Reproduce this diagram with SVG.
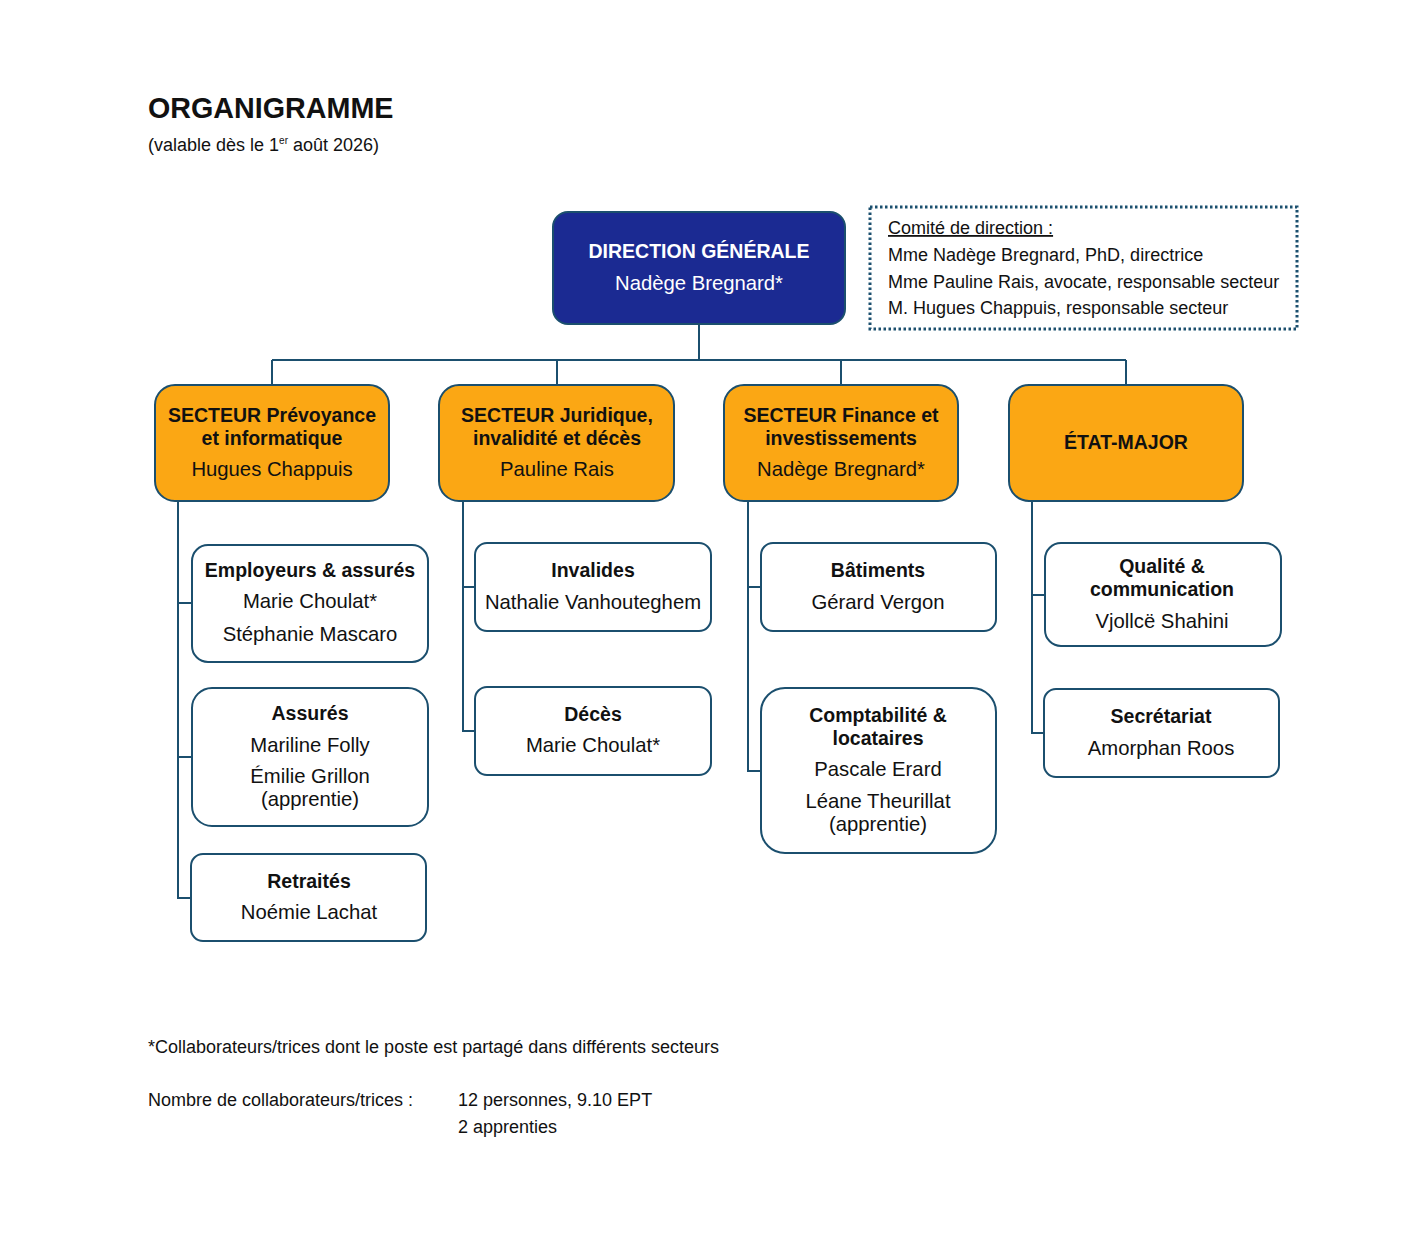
<svg xmlns="http://www.w3.org/2000/svg" width="1423" height="1240" viewBox="0 0 1423 1240">
<style>
text{font-family:"Liberation Sans",Arial,sans-serif;fill:#111;}
.t{font-size:28.7px;font-weight:bold;}
.s{font-size:18px;}
.b{font-size:19.5px;font-weight:bold;text-anchor:middle;}
.n{font-size:20.3px;text-anchor:middle;}
.w{fill:#fff;}
.dg{fill:#1b2a92;stroke:#1b4f6e;stroke-width:2;}
.sec{fill:#fba714;stroke:#1b4f6e;stroke-width:2;}
.sub{fill:#fff;stroke:#1b4f6e;stroke-width:2;}
.ln{fill:none;stroke:#1b4f6e;stroke-width:2;}
</style>
<rect width="1423" height="1240" fill="#fff"/>
<text class="t" x="148" y="118">ORGANIGRAMME</text>
<text class="s" x="148" y="151">(valable dès le 1<tspan font-size="10" dy="-7">er</tspan><tspan dy="7"> août 2026)</tspan></text>

<g id="connectors">
<path class="ln" d="M699,324V360M272,360H1126M272,360V385M557,360V385M841,360V385M1126,360V385"/>
<path class="ln" d="M178,501V898H191M178,603H192M178,757H192"/>
<path class="ln" d="M463,501V731H475M463,587H475"/>
<path class="ln" d="M748,501V771H761M748,587H761"/>
<path class="ln" d="M1032,501V733H1044M1032,595H1045"/>
</g>

<g id="direction">
<rect class="dg" x="553" y="212" width="292" height="112" rx="15"/>
<text class="b w" x="699" y="258">DIRECTION GÉNÉRALE</text>
<text class="n w" x="699" y="290">Nadège Bregnard*</text>
</g>

<g id="comite">
<rect x="870" y="207" width="427" height="122" fill="none" stroke="#1b4f6e" stroke-width="3" stroke-dasharray="2.5 2.5"/>
<text class="s" x="888" y="234" text-decoration="underline">Comité de direction :</text>
<text class="s" x="888" y="261">Mme Nadège Bregnard, PhD, directrice</text>
<text class="s" x="888" y="288">Mme Pauline Rais, avocate, responsable secteur</text>
<text class="s" x="888" y="314">M. Hugues Chappuis, responsable secteur</text>
</g>

<g id="sec-prevoyance">
<rect class="sec" x="155" y="385" width="234" height="116" rx="20"/>
<text class="b" x="272" y="422">SECTEUR Prévoyance</text>
<text class="b" x="272" y="445">et informatique</text>
<text class="n" x="272" y="476">Hugues Chappuis</text>
</g>
<g id="sec-juridique">
<rect class="sec" x="439" y="385" width="235" height="116" rx="20"/>
<text class="b" x="557" y="422">SECTEUR Juridique,</text>
<text class="b" x="557" y="445">invalidité et décès</text>
<text class="n" x="557" y="476">Pauline Rais</text>
</g>
<g id="sec-finance">
<rect class="sec" x="724" y="385" width="234" height="116" rx="20"/>
<text class="b" x="841" y="422">SECTEUR Finance et</text>
<text class="b" x="841" y="445">investissements</text>
<text class="n" x="841" y="476">Nadège Bregnard*</text>
</g>
<g id="etat-major">
<rect class="sec" x="1009" y="385" width="234" height="116" rx="20"/>
<text class="b" x="1126" y="449">ÉTAT-MAJOR</text>
</g>

<g id="employeurs">
<rect class="sub" x="192" y="545" width="236" height="117" rx="16"/>
<text class="b" x="310" y="577">Employeurs &amp; assurés</text>
<text class="n" x="310" y="608">Marie Choulat*</text>
<text class="n" x="310" y="641">Stéphanie Mascaro</text>
</g>
<g id="assures">
<rect class="sub" x="192" y="688" width="236" height="138" rx="20"/>
<text class="b" x="310" y="720">Assurés</text>
<text class="n" x="310" y="752">Mariline Folly</text>
<text class="n" x="310" y="783">Émilie Grillon</text>
<text class="n" x="310" y="806">(apprentie)</text>
</g>
<g id="retraites">
<rect class="sub" x="191" y="854" width="235" height="87" rx="12"/>
<text class="b" x="309" y="888">Retraités</text>
<text class="n" x="309" y="919">Noémie Lachat</text>
</g>

<g id="invalides">
<rect class="sub" x="475" y="543" width="236" height="88" rx="12"/>
<text class="b" x="593" y="577">Invalides</text>
<text class="n" x="593" y="609">Nathalie Vanhouteghem</text>
</g>
<g id="deces">
<rect class="sub" x="475" y="687" width="236" height="88" rx="12"/>
<text class="b" x="593" y="721">Décès</text>
<text class="n" x="593" y="752">Marie Choulat*</text>
</g>

<g id="batiments">
<rect class="sub" x="761" y="543" width="235" height="88" rx="12"/>
<text class="b" x="878" y="577">Bâtiments</text>
<text class="n" x="878" y="609">Gérard Vergon</text>
</g>
<g id="comptabilite">
<rect class="sub" x="761" y="688" width="235" height="165" rx="24"/>
<text class="b" x="878" y="722">Comptabilité &amp;</text>
<text class="b" x="878" y="745">locataires</text>
<text class="n" x="878" y="776">Pascale Erard</text>
<text class="n" x="878" y="808">Léane Theurillat</text>
<text class="n" x="878" y="831">(apprentie)</text>
</g>

<g id="qualite">
<rect class="sub" x="1045" y="543" width="236" height="103" rx="16"/>
<text class="b" x="1162" y="573">Qualité &amp;</text>
<text class="b" x="1162" y="596">communication</text>
<text class="n" x="1162" y="628">Vjollcë Shahini</text>
</g>
<g id="secretariat">
<rect class="sub" x="1044" y="689" width="235" height="88" rx="12"/>
<text class="b" x="1161" y="723">Secrétariat</text>
<text class="n" x="1161" y="755">Amorphan Roos</text>
</g>

<text class="s" x="148" y="1053">*Collaborateurs/trices dont le poste est partagé dans différents secteurs</text>
<text class="s" x="148" y="1106">Nombre de collaborateurs/trices :</text>
<text class="s" x="458" y="1106">12 personnes, 9.10 EPT</text>
<text class="s" x="458" y="1133">2 apprenties</text>
</svg>
